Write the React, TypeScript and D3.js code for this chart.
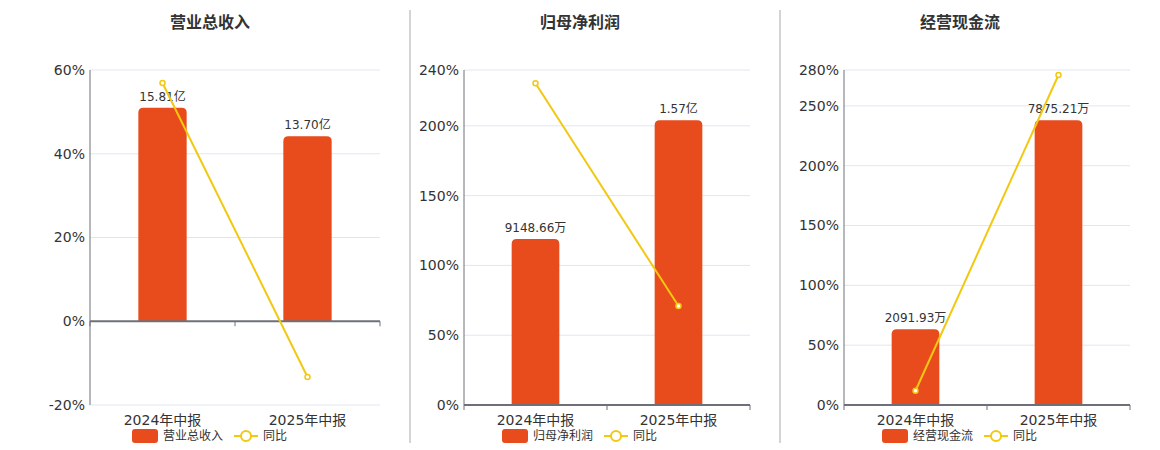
import React from "react";
import * as d3 from "d3";

const categories = ["2024年中报", "2025年中报"];

const revenueTitle = "营业总收入";
const revenueValues = [15.81, 13.7];
const revenueLabels = ["15.81亿", "13.70亿"];
const revenueYoY = [56.9, -13.3];
const revenueTicks = [-20, 0, 20, 40, 60];

const profitTitle = "归母净利润";
const profitValues = [9148.66, 15700];
const profitLabels = ["9148.66万", "1.57亿"];
const profitYoY = [230.5, 70.9];
const profitTicks = [0, 50, 100, 150, 200, 240];

const cashTitle = "经营现金流";
const cashValues = [2091.93, 7875.21];
const cashLabels = ["2091.93万", "7875.21万"];
const cashYoY = [11.9, 275.8];
const cashTicks = [0, 50, 100, 150, 200, 250, 280];

const yoyName = "同比";

const FONT = "'DejaVu Sans', 'Noto Sans CJK SC', sans-serif";
const BAR = "#E84B1C";
const LINE = "#F2C811";
const AXIS = "#6E7079";
const GRID = "#E0E6F1";
const TEXT = "#333";

type PanelProps = {
  title: string;
  values: number[];
  labels: string[];
  yoy: number[];
  ticks: number[];
  x0: number;
  x1: number;
  cx: number;
};

function roundedTop(x: number, y: number, w: number, h: number, r: number) {
  const rr = Math.min(r, w / 2, h);
  return `M${x},${y + h}V${y + rr}Q${x},${y} ${x + rr},${y}H${x + w - rr}Q${x + w},${y} ${x + w},${y + rr}V${y + h}Z`;
}

function Panel({ title, values, labels, yoy, ticks, x0, x1, cx }: PanelProps) {
  const top = 70;
  const bottom = 405;
  const yMin = d3.min(ticks)!;
  const yMax = d3.max(ticks)!;
  const y = d3.scaleLinear().domain([yMin, yMax]).range([bottom, top]);
  const yZero = y(0);
  const x = d3.scaleBand<string>().domain(categories).range([x0, x1]);
  const barMax = d3.max(values)! / 0.85;
  const yb = d3.scaleLinear().domain([0, barMax]).range([yZero, top]);
  const bw = x.bandwidth() / 3;
  const line = d3
    .line<number>()
    .x((_, i) => x(categories[i])! + x.bandwidth() / 2)
    .y((d) => y(d));

  return (
    <g>
      <text x={cx} y={28} textAnchor="middle" fontSize={16} fontWeight="bold" fill={TEXT} fontFamily={FONT}>
        {title}
      </text>
      {ticks.map((t) => (
        <g key={t}>
          {t !== 0 && <line x1={x0} x2={x1} y1={y(t)} y2={y(t)} stroke={GRID} strokeWidth={1} />}
          <text x={x0 - 5} y={y(t)} dy="0.35em" textAnchor="end" fontSize={14} fill={TEXT} fontFamily={FONT}>
            {t}%
          </text>
        </g>
      ))}
      <line x1={x0} x2={x0} y1={top} y2={bottom} stroke={AXIS} strokeWidth={1} />
      {values.map((v, i) => {
        const bx = x(categories[i])! + (x.bandwidth() - bw) / 2;
        const by = yb(v);
        return (
          <g key={i}>
            <path d={roundedTop(bx, by, bw, yZero - by, 5)} fill={BAR} />
            <text x={bx + bw / 2} y={by - 7} textAnchor="middle" fontSize={12} fill={TEXT} fontFamily={FONT}>
              {labels[i]}
            </text>
          </g>
        );
      })}
      <line x1={x0} x2={x1} y1={yZero} y2={yZero} stroke={AXIS} strokeWidth={2} />
      {[x0, ...categories.map((c) => x(c)! + x.bandwidth())].map((tx, i) => (
        <line key={i} x1={tx} x2={tx} y1={yZero} y2={yZero + 5} stroke={AXIS} strokeWidth={1} />
      ))}
      {categories.map((c) => (
        <text key={c} x={x(c)! + x.bandwidth() / 2} y={420} dy="0.35em" textAnchor="middle" fontSize={14} fill={TEXT} fontFamily={FONT}>
          {c}
        </text>
      ))}
      <path d={line(yoy)!} fill="none" stroke={LINE} strokeWidth={2} />
      {yoy.map((v, i) => (
        <circle key={i} cx={x(categories[i])! + x.bandwidth() / 2} cy={y(v)} r={2.5} fill="#fff" stroke={LINE} strokeWidth={1.5} />
      ))}
      <rect x={cx - 78} y={429} width={26} height={14} rx={3} fill={BAR} />
      <text x={cx - 47} y={436} dy="0.35em" fontSize={12} fill={TEXT} fontFamily={FONT}>
        {title}
      </text>
      <line x1={cx + 24} x2={cx + 48} y1={436} y2={436} stroke={LINE} strokeWidth={2} />
      <circle cx={cx + 36} cy={436} r={5} fill="#fff" stroke={LINE} strokeWidth={2} />
      <text x={cx + 53} y={436} dy="0.35em" fontSize={12} fill={TEXT} fontFamily={FONT}>
        {yoyName}
      </text>
    </g>
  );
}

export default function App() {
  return (
    <svg
      width={1160}
      height={450}
      style={{ position: "absolute", left: 0, top: 0, background: "#fff" }}
    >
      <Panel title={revenueTitle} values={revenueValues} labels={revenueLabels} yoy={revenueYoY} ticks={revenueTicks} x0={90} x1={380} cx={210} />
      <Panel title={profitTitle} values={profitValues} labels={profitLabels} yoy={profitYoY} ticks={profitTicks} x0={464} x1={750} cx={580} />
      <Panel title={cashTitle} values={cashValues} labels={cashLabels} yoy={cashYoY} ticks={cashTicks} x0={844} x1={1130} cx={960} />
      <line x1={410} x2={410} y1={10} y2={443} stroke="#AAAAAA" strokeWidth={1} />
      <line x1={780} x2={780} y1={10} y2={443} stroke="#AAAAAA" strokeWidth={1} />
    </svg>
  );
}
